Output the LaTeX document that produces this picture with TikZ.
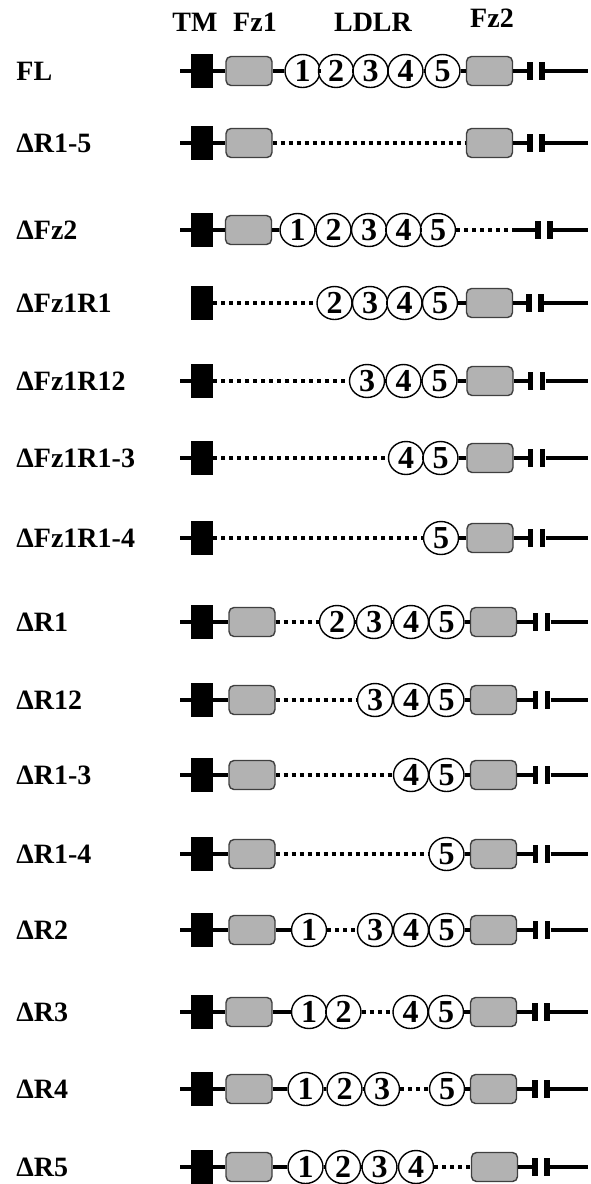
\documentclass[tikz,border=0pt]{standalone}
\usepackage{fontspec}
\setmainfont{Liberation Serif}
\usepackage{tikz}
\usetikzlibrary{shapes.geometric}

\tikzset{
  lbl/.style={anchor=west, inner sep=0pt, font=\fontsize{14}{16}\selectfont\bfseries},
  head/.style={inner sep=0pt, font=\fontsize{14}{16}\selectfont\bfseries},
  tm/.style={fill=black, minimum width=11pt, minimum height=17pt, inner sep=0pt},
  fz/.style={draw=black!75, fill=black!30, rounded corners=2.5pt, line width=0.7pt,
             minimum width=23pt, minimum height=14.5pt, inner sep=0pt},
  rep/.style={ellipse, draw, fill=white, line width=0.7pt, minimum width=17.5pt,
              minimum height=16.5pt, inner sep=0pt, font=\fontsize{16}{16}\selectfont},
  brk/.style={fill=black, minimum width=2.6pt, minimum height=9pt, inner sep=0pt},
  link/.style={line width=1.6pt},
  gap/.style={line width=1.9pt, dash pattern=on 2pt off 2pt},
}

\begin{document}
\begin{tikzpicture}[x=0.5pt, y=-0.5pt]
    \useasboundingbox (0,0) rectangle (590,1184);
    % column heads
    \node[head] (hTM)   at (195,22) {TM};
    \node[head] (hFz1)  at (255,22) {Fz1};
    \node[head] (hLDLR) at (373,22) {LDLR};
    \node[head] (hFz2)  at (492,18) {Fz2};
    % parts every construct has
    \foreach \n/\y/\lab/\bx in {1/71/FL/530, 2/143/ΔR1-5/530, 3/230/ΔFz2/538,
        4/303/ΔFz1R1/529, 5/381/ΔFz1R12/530.5, 6/458/ΔFz1R1-3/530.5,
        7/538/ΔFz1R1-4/530.5, 8/622/ΔR1/535.5, 9/700/ΔR12/535.5,
        10/775/ΔR1-3/535.5, 11/854/ΔR1-4/535.5, 12/930/ΔR2/535.5,
        13/1012/ΔR3/535, 14/1089/ΔR4/535, 15/1167/ΔR5/535} {
      \node[lbl] (lab\n) at (16,\y) {\lab};
      \node[tm] (tm\n) at (202,\y) {};
      \coordinate (st\n) at (180,\y);
      \node[brk] (bra\n) at (\bx,\y) {};
      \node[brk] (brb\n) at (\bx+12,\y) {};
      \coordinate (en\n) at (588,\y);
      \draw[link] (brb\n) -- (en\n);
    }
    % Fz1 and Fz2
    \foreach \n/\x/\y in {1/249/71, 2/249/143, 3/248.5/230, 8/252/622, 9/252/700,
        10/252/775, 11/252/854, 12/252/930, 13/249/1012, 14/249/1089, 15/249/1167}
      \node[fz] (fza\n) at (\x,\y) {};
    \foreach \n/\x/\y in {1/489.5/71, 2/489.5/143, 4/489.5/303, 5/490/381, 6/490/458,
        7/490/538, 8/493.5/622, 9/493.5/700, 10/493.5/775, 11/493.5/854,
        12/493.5/930, 13/493.5/1012, 14/493.5/1089, 15/494.5/1167}
      \node[fz] (fzb\n) at (\x,\y) {};
    % LDLR repeats
    \foreach \k/\x in {1/302.5, 2/336, 3/370.5, 4/405.5, 5/442.5} \node[rep] (r1c\k) at (\x,71) {\textbf{\k}};
    \foreach \k/\x in {1/297.5, 2/333.5, 3/369, 4/403.5, 5/438} \node[rep] (r3c\k) at (\x,230) {\textbf{\k}};
    \foreach \k/\x in {2/334.5, 3/370, 4/404.5, 5/440} \node[rep] (r4c\k) at (\x,303) {\textbf{\k}};
    \foreach \k/\x in {3/367, 4/403.5, 5/439.5} \node[rep] (r5c\k) at (\x,381) {\textbf{\k}};
    \foreach \k/\x in {4/406, 5/440.5} \node[rep] (r6c\k) at (\x,458) {\textbf{\k}};
    \foreach \k/\x in {5/441} \node[rep] (r7c\k) at (\x,538) {\textbf{\k}};
    \foreach \k/\x in {2/337, 3/374, 4/411, 5/446.5} \node[rep] (r8c\k) at (\x,622) {\textbf{\k}};
    \foreach \k/\x in {3/375, 4/411, 5/446.5} \node[rep] (r9c\k) at (\x,700) {\textbf{\k}};
    \foreach \k/\x in {4/411, 5/446.5} \node[rep] (r10c\k) at (\x,775) {\textbf{\k}};
    \foreach \k/\x in {5/446.5} \node[rep] (r11c\k) at (\x,854) {\textbf{\k}};
    \foreach \k/\x in {1/309, 3/375, 4/411, 5/446.5} \node[rep] (r12c\k) at (\x,930) {\textbf{\k}};
    \foreach \k/\x in {1/309, 2/343.5, 4/410.5, 5/446} \node[rep] (r13c\k) at (\x,1012) {\textbf{\k}};
    \foreach \k/\x in {1/305.5, 2/344.5, 3/382, 5/447} \node[rep] (r14c\k) at (\x,1089) {\textbf{\k}};
    \foreach \k/\x in {1/305.5, 2/343, 3/379.5, 4/416} \node[rep] (r15c\k) at (\x,1167) {\textbf{\k}};
    \coordinate (d3) at (515,230);
    % kept stretches
    \foreach \a/\b in {st1/tm1, tm1/fza1, fza1/r1c1, r1c1/r1c2, r1c2/r1c3, r1c3/r1c4,
        r1c4/r1c5, r1c5/fzb1, fzb1/bra1,
        st2/tm2, tm2/fza2, fzb2/bra2,
        st3/tm3, tm3/fza3, fza3/r3c1, r3c1/r3c2, r3c2/r3c3, r3c3/r3c4, r3c4/r3c5, d3/bra3,
        r4c2/r4c3, r4c3/r4c4, r4c4/r4c5, r4c5/fzb4, fzb4/bra4,
        st5/tm5, r5c3/r5c4, r5c4/r5c5, r5c5/fzb5, fzb5/bra5,
        st6/tm6, r6c4/r6c5, r6c5/fzb6, fzb6/bra6,
        st7/tm7, r7c5/fzb7, fzb7/bra7,
        st8/tm8, tm8/fza8, r8c2/r8c3, r8c3/r8c4, r8c4/r8c5, r8c5/fzb8, fzb8/bra8,
        st9/tm9, tm9/fza9, r9c3/r9c4, r9c4/r9c5, r9c5/fzb9, fzb9/bra9,
        st10/tm10, tm10/fza10, r10c4/r10c5, r10c5/fzb10, fzb10/bra10,
        st11/tm11, tm11/fza11, r11c5/fzb11, fzb11/bra11,
        st12/tm12, tm12/fza12, fza12/r12c1, r12c3/r12c4, r12c4/r12c5, r12c5/fzb12, fzb12/bra12,
        st13/tm13, tm13/fza13, fza13/r13c1, r13c1/r13c2, r13c4/r13c5, r13c5/fzb13, fzb13/bra13,
        st14/tm14, tm14/fza14, fza14/r14c1, r14c1/r14c2, r14c2/r14c3, r14c5/fzb14, fzb14/bra14,
        st15/tm15, tm15/fza15, fza15/r15c1, r15c1/r15c2, r15c2/r15c3, r15c3/r15c4, fzb15/bra15}
      \draw[link] (\a) -- (\b);
    % deleted stretches
    \foreach \a/\b in {fza2/fzb2, r3c5/d3, tm4/r4c2, tm5/r5c3, tm6/r6c4, tm7/r7c5,
        fza8/r8c2, fza9/r9c3, fza10/r10c4, fza11/r11c5, r12c1/r12c3, r13c2/r13c4,
        r14c3/r14c5, r15c4/fzb15}
      \draw[gap] (\a) -- (\b);
\end{tikzpicture}
\end{document}
